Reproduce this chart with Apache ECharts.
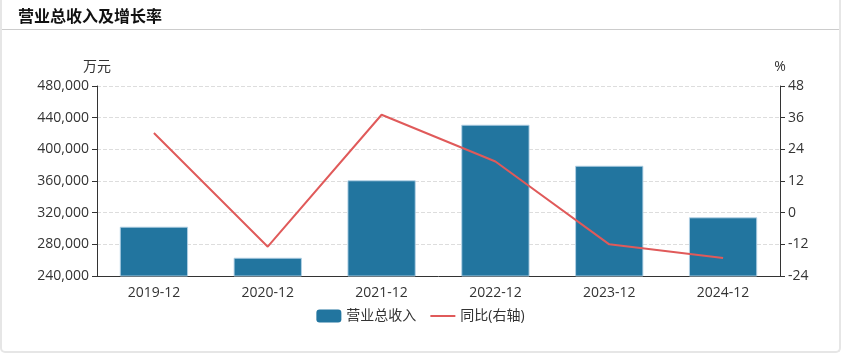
<!DOCTYPE html>
<html><head><meta charset="utf-8">
<script src="https://cdn.jsdelivr.net/npm/echarts@6/dist/echarts.min.js"></script>
<style>
html,body{margin:0;padding:0;background:#fff;}
#box{position:absolute;left:0;top:0;width:837px;height:351px;border:2px solid #e6e6e6;border-top:none;border-radius:0 0 5px 5px;}
#c{position:absolute;left:0;top:0;width:841px;height:355px;}
</style></head>
<body>
<div id="box"></div>
<div id="c"></div>
<script>
const titleText = '营业总收入及增长率';
const categories = ['2019-12','2020-12','2021-12','2022-12','2023-12','2024-12'];
const revenue = [302300, 263100, 360900, 431100, 379300, 314100];
const growth = [30.2, -12.9, 37.1, 19.4, -12.0, -17.2];
const leftTicks = {min: 240000, max: 480000, interval: 40000};
const rightTicks = {min: -24, max: 48, interval: 12};
const seriesNames = ['营业总收入', '同比(右轴)'];
const unitNames = ['万元', '%'];

const font = '"Open Sans", "Noto Sans CJK SC", sans-serif';
const chart = echarts.init(document.getElementById('c'), null, {renderer: 'canvas'});
chart.setOption({
  animation: false,
  textStyle: {fontFamily: font},
  title: {text: titleText, left: 13, top: 3, textStyle: {fontSize: 16, fontWeight: 'bold', color: '#111', fontFamily: '"Noto Sans CJK SC", sans-serif'}},
  graphic: [{type: 'line', shape: {x1: 2, y1: 29.5, x2: 839, y2: 29.5}, style: {stroke: '#cccccc', lineWidth: 1}}],
  grid: {left: 97, right: 61, top: 86, bottom: 79},
  legend: {
    bottom: 27, left: 'center', itemWidth: 25, itemHeight: 13, itemGap: 14,
    textStyle: {fontSize: 14, color: '#333', fontFamily: font},
    data: [
      {name: seriesNames[0], icon: 'roundRect', itemStyle: {borderWidth: 0}},
      {name: seriesNames[1], icon: 'path://M0,0 L25,0 L25,2 L0,2 Z'}
    ]
  },
  xAxis: {
    type: 'category', data: categories,
    axisLine: {onZero: false, lineStyle: {color: '#333'}},
    axisTick: {alignWithLabel: true, lineStyle: {color: '#333'}},
    axisLabel: {fontSize: 14, color: '#333', margin: 10}
  },
  yAxis: [{
    type: 'value', name: unitNames[0], nameGap: 12, nameTextStyle: {fontSize: 14, color: '#333'},
    min: leftTicks.min, max: leftTicks.max, interval: leftTicks.interval,
    axisLine: {show: true, lineStyle: {color: '#333'}},
    axisTick: {show: true, lineStyle: {color: '#333'}},
    axisLabel: {fontSize: 14, color: '#333', formatter: v => v.toLocaleString('en-US')},
    splitLine: {lineStyle: {type: 'dashed', color: '#dddddd'}}
  }, {
    type: 'value', name: unitNames[1], nameGap: 12, nameTextStyle: {fontSize: 14, color: '#333'},
    min: rightTicks.min, max: rightTicks.max, interval: rightTicks.interval,
    axisLine: {show: true, lineStyle: {color: '#333'}},
    axisTick: {show: true, lineStyle: {color: '#333'}},
    axisLabel: {fontSize: 14, color: '#333'},
    splitLine: {show: false}
  }],
  series: [{
    name: seriesNames[0], type: 'bar', data: revenue, barWidth: '60%',
    itemStyle: {color: '#22759f', borderColor: 'rgba(180,210,230,0.9)', borderWidth: 1}
  }, {
    name: seriesNames[1], type: 'line', yAxisIndex: 1, data: growth,
    showSymbol: false, symbol: 'none',
    lineStyle: {color: '#e05a5a', width: 2}, itemStyle: {color: '#e05a5a'}
  }]
});
</script>
</body></html>
